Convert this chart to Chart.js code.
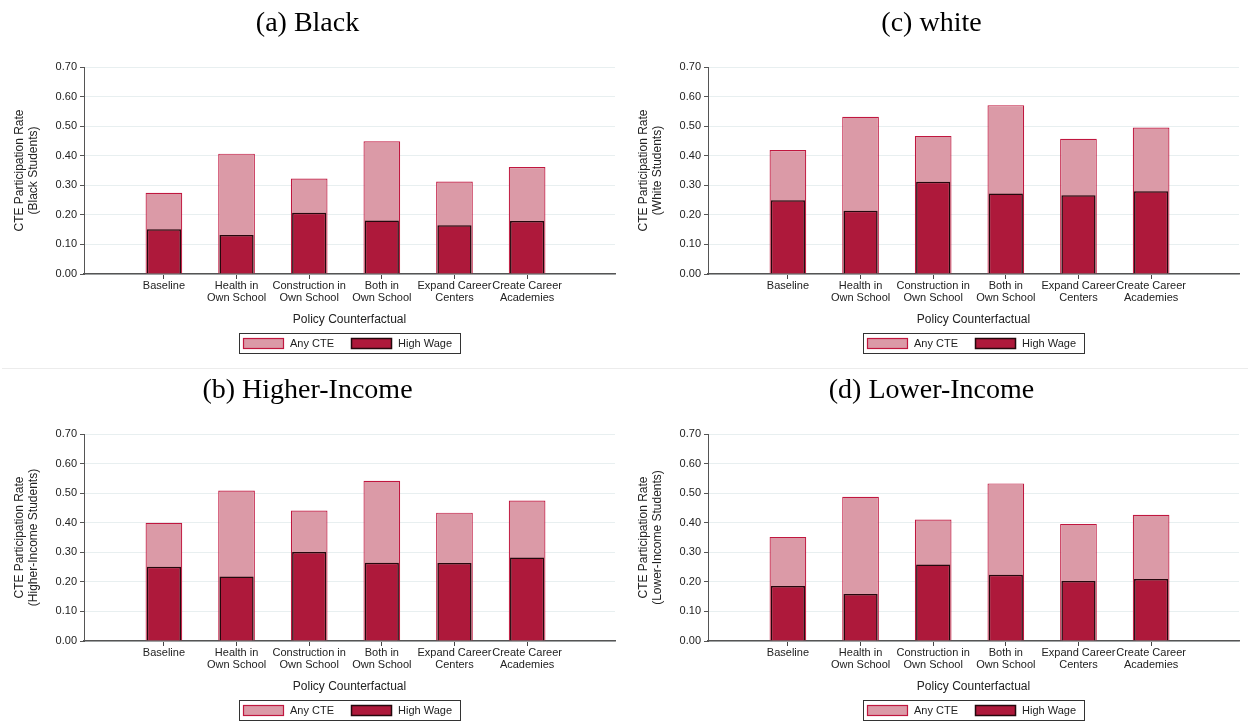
<!DOCTYPE html>
<html>
<head>
<meta charset="utf-8">
<title>CTE Participation by Policy Counterfactual</title>
<script src="https://cdn.jsdelivr.net/npm/chart.js@4.4.1/dist/chart.umd.min.js"></script>
<style>
  html, body { margin: 0; padding: 0; background: #ffffff; }
  body { width: 1248px; height: 725px; position: relative; overflow: hidden; }
  canvas { position: absolute; }
  #c1 { left: 0; top: 0; }
  #c2 { left: 624px; top: 0; }
  #c3 { left: 0; top: 367px; }
  #c4 { left: 624px; top: 367px; }
  .rule { position: absolute; left: 2px; top: 368px; width: 1246px; height: 1px; background: #ececec; }
</style>
</head>
<body>
<canvas id="c1" width="624" height="367"></canvas>
<canvas id="c2" width="624" height="367"></canvas>
<canvas id="c3" width="624" height="367"></canvas>
<canvas id="c4" width="624" height="367"></canvas>
<div class="rule"></div>
<script>
// Policy counterfactuals (x-axis categories, multi-line labels)
const categories = [
  ["Baseline"],
  ["Health in", "Own School"],
  ["Construction in", "Own School"],
  ["Both in", "Own School"],
  ["Expand Career", "Centers"],
  ["Create Career", "Academies"]
];

const seriesNames = ["Any CTE", "High Wage"];

// (a) Black students
const anyCteBlack   = [0.275, 0.407, 0.323, 0.449, 0.313, 0.362];
const highWageBlack = [0.151, 0.132, 0.207, 0.181, 0.165, 0.179];

// (c) White students
const anyCteWhite   = [0.419, 0.532, 0.467, 0.571, 0.457, 0.495];
const highWageWhite = [0.249, 0.214, 0.312, 0.272, 0.266, 0.280];

// (b) Higher-income students
const anyCteHigher   = [0.400, 0.509, 0.441, 0.542, 0.434, 0.475];
const highWageHigher = [0.251, 0.218, 0.301, 0.265, 0.264, 0.282];

// (d) Lower-income students
const anyCteLower   = [0.352, 0.488, 0.411, 0.533, 0.396, 0.427];
const highWageLower = [0.186, 0.159, 0.259, 0.224, 0.203, 0.210];

const yTickValues = [0, 0.1, 0.2, 0.3, 0.4, 0.5, 0.6, 0.7];

const SANS = '"Liberation Sans", Arial, Helvetica, sans-serif';
const SERIF = '"Liberation Serif", "Times New Roman", Times, serif';

const ANY_FILL = '#db9aa7';
const ANY_EDGE = '#c0173f';
const HIGH_FILL = '#ae193b';
const HIGH_EDGE = '#24080d';

// Boxed legend drawn under the x-axis title
const boxedLegend = {
  id: 'boxedLegend',
  afterDraw(chart) {
    const { ctx, chartArea } = chart;
    const ds = chart.data.datasets;
    ctx.save();
    ctx.font = '11px ' + SANS;
    const sw = 41, sh = 11, gapText = 6, gapItem = 17, padL = 4, padR = 8, h = 20;
    const widths = ds.map(d => ctx.measureText(d.label).width);
    const total = padL + ds.length * (sw + gapText) + widths.reduce((a, b) => a + b, 0)
                + gapItem * (ds.length - 1) + padR;
    const cx = (chartArea.left + chartArea.right) / 2;
    const top = Math.round(chartArea.bottom + 59);
    let x = Math.round(cx - total / 2);
    ctx.strokeStyle = '#333333';
    ctx.lineWidth = 1;
    ctx.strokeRect(x + 0.5, top + 0.5, Math.round(total), h);
    x += padL;
    ds.forEach((d, i) => {
      ctx.fillStyle = d.backgroundColor;
      ctx.fillRect(x, top + 5, sw, sh);
      ctx.strokeStyle = d.borderColor;
      ctx.lineWidth = d.borderWidth;
      ctx.strokeRect(x + 0.5, top + 5.5, sw - 1, sh - 1);
      ctx.fillStyle = '#222222';
      ctx.textBaseline = 'middle';
      ctx.textAlign = 'left';
      ctx.fillText(d.label, x + sw + gapText, top + h / 2 + 1);
      x += sw + gapText + widths[i] + gapItem;
    });
    ctx.restore();
  }
};

function makePanel(canvasId, title, group, anyVals, highVals) {
  const xs = categories.map((_, i) => i + 1);
  new Chart(document.getElementById(canvasId), {
    type: 'bar',
    data: {
      datasets: [
        {
          label: seriesNames[0],
          data: xs.map((x, i) => ({ x: x, y: anyVals[i] })),
          backgroundColor: ANY_FILL,
          borderColor: ANY_EDGE,
          borderWidth: 1.2,
          borderSkipped: 'start',
          grouped: false,
          categoryPercentage: 1,
          barPercentage: 0.505,
          order: 2
        },
        {
          label: seriesNames[1],
          data: xs.map((x, i) => ({ x: x, y: highVals[i] })),
          backgroundColor: HIGH_FILL,
          borderColor: HIGH_EDGE,
          borderWidth: 1.5,
          borderSkipped: 'start',
          grouped: false,
          categoryPercentage: 1,
          barPercentage: 0.47,
          order: 1
        }
      ]
    },
    options: {
      responsive: false,
      animation: false,
      devicePixelRatio: 1,
      layout: { padding: { left: 0, right: 9, top: 0, bottom: 39 } },
      plugins: {
        legend: { display: false },
        tooltip: { enabled: false },
        title: {
          display: true,
          text: title,
          color: '#000000',
          font: { family: SERIF, size: 28, weight: 'normal', lineHeight: 1.2 },
          padding: { top: 7, bottom: 26.4 }
        }
      },
      scales: {
        x: {
          type: 'linear',
          offset: false,
          min: -0.1,
          max: 7.21,
          afterBuildTicks: (scale) => { scale.ticks = xs.map(v => ({ value: v })); },
          afterFit: (scale) => { scale.height = 54; },
          ticks: {
            autoSkip: false,
            maxRotation: 0,
            minRotation: 0,
            padding: 1,
            color: '#222222',
            font: { family: SANS, size: 11, lineHeight: 1.1 },
            callback: (value) => categories[Math.round(value) - 1] || ''
          },
          grid: {
            display: true,
            offset: false,
            drawOnChartArea: false,
            drawTicks: true,
            tickLength: 5,
            tickWidth: 1,
            tickColor: '#444444',
            color: '#444444'
          },
          border: { display: true, color: '#555555', width: 1.5 },
          title: {
            display: true,
            text: 'Policy Counterfactual',
            color: '#222222',
            font: { family: SANS, size: 12, lineHeight: 1.2 },
            padding: { top: 0, bottom: 1 }
          }
        },
        y: {
          min: 0,
          max: 0.7,
          afterBuildTicks: (scale) => { scale.ticks = yTickValues.map(v => ({ value: v })); },
          afterFit: (scale) => { scale.width = 84; },
          ticks: {
            padding: 3,
            color: '#222222',
            font: { family: SANS, size: 11 },
            callback: (value) => Number(value).toFixed(2)
          },
          grid: {
            color: '#e8eff0',
            lineWidth: 1,
            drawTicks: true,
            tickLength: 4,
            tickColor: '#555555'
          },
          border: { display: true, color: '#555555', width: 1 },
          title: {
            display: true,
            text: ['CTE Participation Rate', '(' + group + ' Students)'],
            color: '#222222',
            font: { family: SANS, size: 12, lineHeight: 1.1 },
            padding: { top: 13.4, bottom: 0 }
          }
        }
      }
    },
    plugins: [boxedLegend]
  });
}

makePanel('c1', '(a) Black', 'Black', anyCteBlack, highWageBlack);
makePanel('c2', '(c) white', 'White', anyCteWhite, highWageWhite);
makePanel('c3', '(b) Higher-Income', 'Higher-Income', anyCteHigher, highWageHigher);
makePanel('c4', '(d) Lower-Income', 'Lower-Income', anyCteLower, highWageLower);
</script>
</body>
</html>
